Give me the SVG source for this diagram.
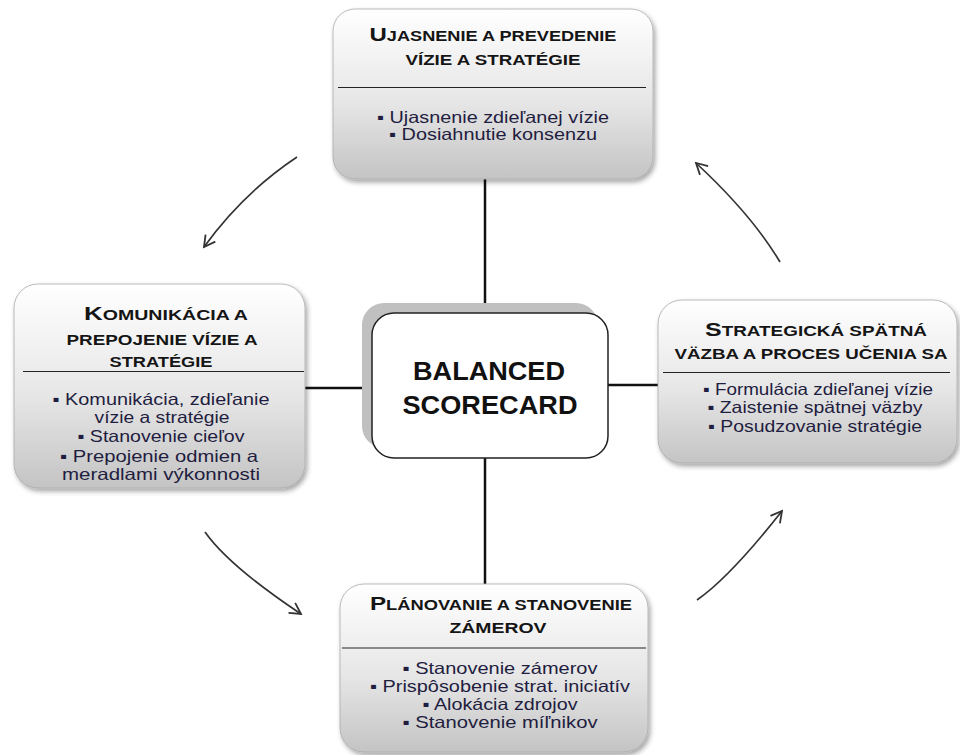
<svg xmlns="http://www.w3.org/2000/svg" width="960" height="755" viewBox="0 0 960 755">
  <defs>
    <linearGradient id="boxFill" x1="0" y1="0" x2="0" y2="1">
      <stop offset="0" stop-color="#ffffff"/>
      <stop offset="0.55" stop-color="#e6e6e6"/>
      <stop offset="1" stop-color="#c4c4c4"/>
    </linearGradient>
    <filter id="softShadow" x="-10%" y="-10%" width="125%" height="130%">
      <feDropShadow dx="2" dy="3" stdDeviation="2.5" flood-color="#000" flood-opacity="0.35"/>
    </filter>
    <marker id="chevron" viewBox="0 0 14 14" refX="12" refY="7" markerWidth="14" markerHeight="14" markerUnits="userSpaceOnUse" orient="auto">
      <path d="M1,1 L12,7 L1,13" fill="none" stroke="#333" stroke-width="1.8" stroke-linejoin="miter"/>
    </marker>
  </defs>
  <style>
    .box { fill: url(#boxFill); stroke: #a9a9a9; stroke-width: 0.8; filter: url(#softShadow); }
    .sep { stroke: #222; stroke-width: 1.2; }
    .title { font-family: "Liberation Sans", Arial, sans-serif; font-weight: bold; font-size: 14px; fill: #151515; text-anchor: middle; }
    .cap { font-size: 18.5px; }
    .item { font-family: "Liberation Sans", Arial, sans-serif; font-size: 16.5px; fill: #1f1d40; text-anchor: middle; }
    .hub { font-family: "Liberation Sans", Arial, sans-serif; font-weight: bold; font-size: 25.5px; fill: #111; text-anchor: middle; }
    .link { stroke: #111; stroke-width: 2.5; fill: none; }
    .cycle { stroke: #333; stroke-width: 1.7; fill: none; marker-end: url(#chevron); }
  </style>

  <!-- spokes from the hub to the four stages -->
  <g id="connectors">
    <line class="link" x1="485" y1="178" x2="485" y2="313"/>
    <line class="link" x1="485" y1="458" x2="485" y2="585"/>
    <line class="link" x1="305" y1="388" x2="372" y2="388"/>
    <line class="link" x1="608" y1="385" x2="658" y2="385"/>
    <!-- cycle arrows -->
    <path class="cycle" d="M297,157 Q243,193 204,247"/>
    <path class="cycle" d="M205,532 Q229,566 301,614"/>
    <path class="cycle" d="M697,600 Q730,577 782,511"/>
    <path class="cycle" d="M780,262 Q752,215 696,163"/>
  </g>

  <!-- hub -->
  <g id="hub">
    <rect x="362" y="303" width="236" height="145" rx="22" fill="#c0c0c0"/>
    <rect x="372" y="313" width="236" height="145" rx="22" fill="#fff" stroke="#222" stroke-width="1.5"/>
    <text class="hub" x="489" y="380" textLength="152" lengthAdjust="spacingAndGlyphs">BALANCED</text>
    <text class="hub" x="490" y="414" textLength="175" lengthAdjust="spacingAndGlyphs">SCORECARD</text>
  </g>

  <!-- stage: clarify and translate -->
  <g id="stage-clarify">
    <rect class="box" x="333" y="9" width="320" height="170" rx="22"/>
    <text class="title" x="493" y="41" textLength="247" lengthAdjust="spacingAndGlyphs"><tspan class="cap">U</tspan>JASNENIE A PREVEDENIE</text>
    <text class="title" x="493" y="65" textLength="175" lengthAdjust="spacingAndGlyphs">VÍZIE A  STRATÉGIE</text>
    <line class="sep" x1="338" y1="87.5" x2="646" y2="87.5"/>
    <text class="item" x="493" y="123" textLength="232" lengthAdjust="spacingAndGlyphs">▪ Ujasnenie zdieľanej vízie</text>
    <text class="item" x="493" y="140" textLength="208" lengthAdjust="spacingAndGlyphs">▪ Dosiahnutie konsenzu</text>
  </g>

  <!-- stage: communicate and link -->
  <g id="stage-communicate">
    <rect class="box" x="14" y="284" width="291" height="204" rx="24"/>
    <text class="title" x="166" y="320" textLength="164" lengthAdjust="spacingAndGlyphs"><tspan class="cap">K</tspan>OMUNIKÁCIA A</text>
    <text class="title" x="162" y="345" textLength="191" lengthAdjust="spacingAndGlyphs">PREPOJENIE VÍZIE A</text>
    <text class="title" x="161" y="367" textLength="103" lengthAdjust="spacingAndGlyphs">STRATÉGIE</text>
    <line class="sep" x1="23" y1="371.5" x2="304" y2="371.5"/>
    <text class="item" x="161" y="405" textLength="217" lengthAdjust="spacingAndGlyphs">▪ Komunikácia, zdieľanie</text>
    <text class="item" x="162" y="423" textLength="135" lengthAdjust="spacingAndGlyphs">vízie a stratégie</text>
    <text class="item" x="161" y="442" textLength="167" lengthAdjust="spacingAndGlyphs">▪ Stanovenie cieľov</text>
    <text class="item" x="159" y="462" textLength="198" lengthAdjust="spacingAndGlyphs">▪ Prepojenie odmien a</text>
    <text class="item" x="161" y="480" textLength="198" lengthAdjust="spacingAndGlyphs">meradlami výkonnosti</text>
  </g>

  <!-- stage: strategic feedback and learning -->
  <g id="stage-feedback">
    <rect class="box" x="658" y="300" width="299" height="163" rx="24"/>
    <text class="title" x="816" y="336" textLength="222" lengthAdjust="spacingAndGlyphs"><tspan class="cap">S</tspan>TRATEGICKÁ SPÄTNÁ</text>
    <text class="title" x="811" y="359" textLength="273" lengthAdjust="spacingAndGlyphs">VÄZBA A PROCES UČENIA SA</text>
    <line class="sep" x1="663" y1="372.5" x2="950" y2="372.5"/>
    <text class="item" x="818" y="395" textLength="230" lengthAdjust="spacingAndGlyphs">▪ Formulácia zdieľanej vízie</text>
    <text class="item" x="815" y="413" textLength="215" lengthAdjust="spacingAndGlyphs">▪ Zaistenie spätnej väzby</text>
    <text class="item" x="815" y="432" textLength="214" lengthAdjust="spacingAndGlyphs">▪ Posudzovanie stratégie</text>
  </g>

  <!-- stage: planning and targets -->
  <g id="stage-planning">
    <rect class="box" x="340" y="584" width="308" height="168" rx="24"/>
    <text class="title" x="501" y="610" textLength="262" lengthAdjust="spacingAndGlyphs"><tspan class="cap">P</tspan>LÁNOVANIE A  STANOVENIE</text>
    <text class="title" x="498" y="633" textLength="97" lengthAdjust="spacingAndGlyphs">ZÁMEROV</text>
    <line class="sep" x1="342" y1="648" x2="646" y2="648"/>
    <text class="item" x="500" y="674" textLength="195" lengthAdjust="spacingAndGlyphs">▪ Stanovenie zámerov</text>
    <text class="item" x="500" y="692" textLength="260" lengthAdjust="spacingAndGlyphs">▪ Prispôsobenie strat. iniciatív</text>
    <text class="item" x="500" y="710" textLength="155" lengthAdjust="spacingAndGlyphs">▪ Alokácia zdrojov</text>
    <text class="item" x="500" y="728" textLength="195" lengthAdjust="spacingAndGlyphs">▪ Stanovenie míľnikov</text>
  </g>
</svg>
